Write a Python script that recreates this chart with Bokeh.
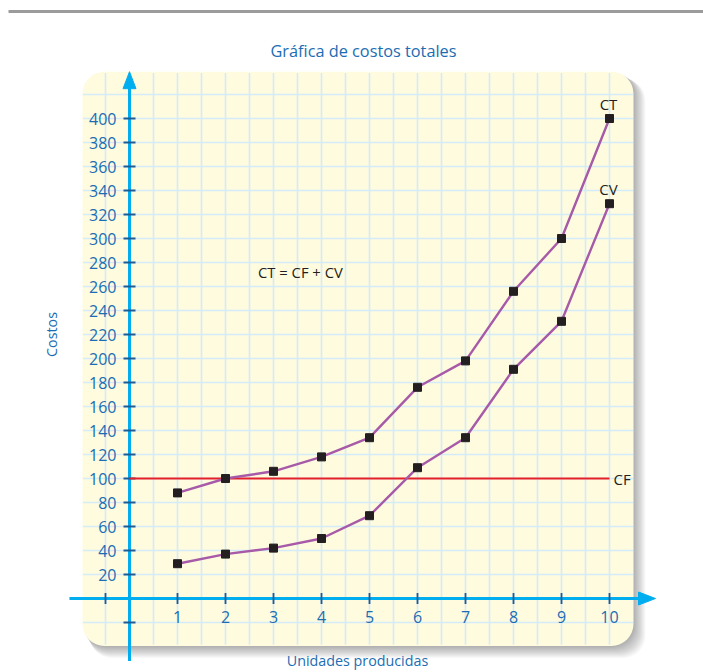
from bokeh.plotting import figure
from bokeh.models import Range1d, ColumnDataSource
from bokeh.core.properties import value
from bokeh.embed import file_html
from bokeh.resources import INLINE

# ---------------- data ----------------
units = [1, 2, 3, 4, 5, 6, 7, 8, 9, 10]
ct = [88, 100, 106, 118, 134, 176, 198, 256, 300, 400]
cv = [29, 37, 42, 50, 69, 109, 134, 191, 231, 329]
cf_value = 100
y_tick_values = [20, 40, 60, 80, 100, 120, 140, 160, 180, 200,
                 220, 240, 260, 280, 300, 320, 340, 360, 380, 400]
y_tick_labels = [str(v) for v in y_tick_values]
x_tick_labels = [str(v) for v in units]
title_text = "Gráfica de costos totales"
x_label = "Unidades producidas"
y_label = "Costos"
formula_text = "CT = CF + CV"

FONT = "Open Sans"
BLUE_TXT = "#1b6db3"
CYAN = "#00aeef"
TICK = "#1d5a96"
PURPLE = "#a65aa8"
RED = "#e6202a"
DARK = "#231f20"

W, H = 703, 672
PX_X = 48.0   # px per unit
PX_Y = 1.2    # px per cost unit
x0_px, y0_px = 129.0, 598.0  # position of origin inside the canvas
xr = Range1d(-x0_px / PX_X, (W - x0_px) / PX_X)
yr = Range1d(-(H - y0_px) / PX_Y, y0_px / PX_Y)

p = figure(width=W, height=H, x_range=xr, y_range=yr, output_backend="svg",
           toolbar_location=None, min_border=0, outline_line_color=None,
           background_fill_color="white", border_fill_color="white")
p.xaxis.visible = False
p.yaxis.visible = False
p.xgrid.visible = False
p.ygrid.visible = False

def dx(px):
    return px / PX_X

def dy(px):
    return px / PX_Y

# top grey rule
p.segment(x0=[xr.start + dx(8)], x1=[xr.end], y0=[yr.end - dy(11)], y1=[yr.end - dy(11)],
          line_color="#9b9b9b", line_width=3)

# panel geometry
pl, pr = -0.98, 10.5
pb, pt = -39.5, 439.0

# shadow
for k in range(1, 13):
    p.quad(left=[pl + dx(k * 0.6)], right=[pr + dx(k)], top=[pt - dy(k * 0.6)], bottom=[pb - dy(k)],
           fill_color="#000000", fill_alpha=0.026, line_color=None, border_radius=22)

p.quad(left=[pl], right=[pr], top=[pt], bottom=[pb], fill_color="#fffbdf",
       line_color=None, border_radius=22)

# grid
gx = [i * 0.5 for i in range(-1, 21)]
p.segment(x0=gx, x1=gx, y0=[pb + 1] * len(gx), y1=[pt - 1] * len(gx),
          line_color="#d3ecf7", line_width=1.6)
gy = list(range(-20, 421, 20))
p.segment(x0=[pl + 0.01] * len(gy), x1=[pr - 0.01] * len(gy), y0=gy, y1=gy,
          line_color="#d3ecf7", line_width=1.6)

# axes with arrow heads
y_axis_bottom = pb - dy(15)
y_tip = pt
p.segment(x0=[0], x1=[0], y0=[y_axis_bottom], y1=[y_tip - dy(10)], line_color=CYAN, line_width=3)
p.patch(x=[0, -dx(6.5), dx(6.5)], y=[y_tip, y_tip - dy(17), y_tip - dy(17)],
        fill_color=CYAN, line_color=CYAN)
x_axis_left = pl - dx(13)
x_tip = pr + dx(22)
p.segment(x0=[x_axis_left], x1=[x_tip - dx(10)], y0=[0], y1=[0], line_color=CYAN, line_width=3)
p.patch(x=[x_tip, x_tip - dx(17), x_tip - dx(17)], y=[0, dy(6.5), -dy(6.5)],
        fill_color=CYAN, line_color=CYAN)

# ticks
yt = [-20] + y_tick_values
p.scatter(x=[0] * len(yt), y=yt, marker="dash", size=12, line_color=TICK, line_width=1.8)
xt = [-0.5] + units
p.scatter(x=xt, y=[0] * len(xt), marker="dash", angle=1.5708, size=11,
          line_color=TICK, line_width=1.8)

# tick labels
p.text(x=[0] * len(y_tick_values), y=y_tick_values, text=y_tick_labels,
       text_font=value(FONT), text_font_size="16px", text_color=BLUE_TXT,
       text_align="right", text_baseline="middle", x_offset=-13)
p.text(x=units, y=[0] * len(units), text=x_tick_labels,
       text_font=value(FONT), text_font_size="16px", text_color=BLUE_TXT,
       text_align="center", text_baseline="middle", y_offset=18)

# titles
p.text(x=[4.875], y=[yr.end - dy(50)], text=[title_text], text_font=value(FONT),
       text_font_size="16.3px", text_color=BLUE_TXT, text_align="center", text_baseline="middle")
p.text(x=[4.75], y=[yr.start + dy(12)], text=[x_label], text_font=value(FONT),
       text_font_size="14.3px", text_color=BLUE_TXT, text_align="center", text_baseline="middle")
p.text(x=[-1.625], y=[220], text=[y_label], text_font=value(FONT), angle=1.5708,
       text_font_size="14.3px", text_color=BLUE_TXT, text_align="center", text_baseline="middle")

# CF line
p.segment(x0=[0], x1=[units[-1]], y0=[cf_value], y1=[cf_value], line_color=RED, line_width=2.2)

# CT and CV
src = ColumnDataSource(dict(x=units, ct=ct, cv=cv))
p.line("x", "ct", source=src, line_color=PURPLE, line_width=2.4)
p.line("x", "cv", source=src, line_color=PURPLE, line_width=2.4)
p.scatter("x", "ct", source=src, marker="square", size=8, fill_color=DARK, line_color=DARK)
p.scatter("x", "cv", source=src, marker="square", size=8, fill_color=DARK, line_color=DARK)

# series labels
p.text(x=[units[-1], units[-1]], y=[ct[-1], cv[-1]], text=["CT", "CV"], text_font=value(FONT),
       text_font_size="15px", text_color=DARK, text_align="center", text_baseline="middle",
       y_offset=-15, x_offset=-1)
p.text(x=[units[-1]], y=[cf_value], text=["CF"], text_font=value(FONT),
       text_font_size="15px", text_color=DARK, text_align="left", text_baseline="middle",
       x_offset=4)
p.text(x=[3.56], y=[272], text=[formula_text], text_font=value(FONT),
       text_font_size="14.8px", text_color=DARK, text_align="center", text_baseline="middle")

open("out.html", "w").write(file_html(p, INLINE))
